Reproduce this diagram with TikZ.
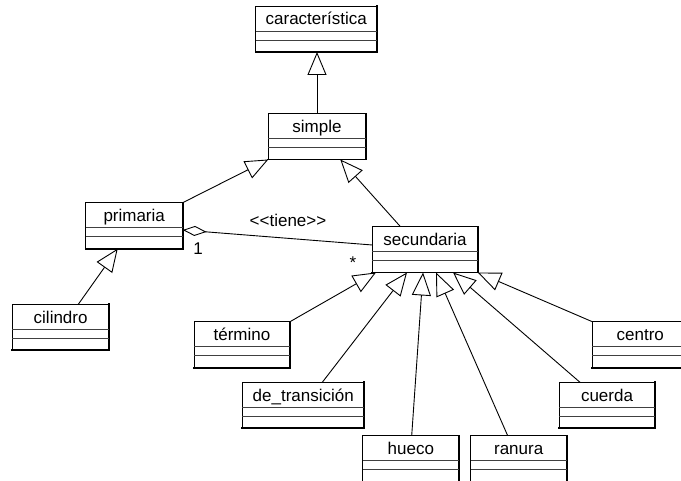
\documentclass[tikz,border=0pt]{standalone}
\usepackage{fontspec}
\setmainfont{Liberation Sans}
\usetikzlibrary{arrows.meta,calc}

\tikzset{
  clsbox/.style={draw=none, minimum height=46pt, inner sep=0pt, outer sep=0pt, anchor=north west},
  thinedge/.style={draw=black, line width=0.9pt, line cap=rect},
  thickedge/.style={draw=black, line width=1.8pt, line cap=rect},
  sep/.style={draw=black!75, line width=0.8pt},
  clslabel/.style={inner sep=0pt, anchor=base, font=\fontsize{17}{20}\selectfont},
  lbl/.style={inner sep=0pt, anchor=base, font=\fontsize{17}{20}\selectfont},
  gen/.style={line width=0.9pt, -{Triangle[open, length=23pt, width=19pt, line width=0.9pt]}},
  agg/.style={line width=0.9pt, {Diamond[open, length=24pt, width=10pt, line width=0.9pt]}-},
}

% class box: name, x, y (top-left), width, title
\newcommand\umlclass[5]{%
  \node[clsbox, minimum width=#4] (#1) at (#2,#3) {};
  \draw[thinedge] (#1.south west) -- (#1.north west) -- (#1.north east);
  \draw[thickedge] (#1.north east) -- (#1.south east) -- (#1.south west);
  \draw[sep] ($(#1.north west)+(0,25)$) -- ($(#1.north east)+(0,25)$);
  \draw[sep] ($(#1.north west)+(0,34)$) -- ($(#1.north east)+(0,34)$);
  \node[clslabel] (#1-name) at ($(#1.north)+(0,19)$) {#5};
}

\begin{document}
\begin{tikzpicture}[x=1pt, y=-1pt]
\useasboundingbox (0,0) rectangle (681,481);
\fill[white] (0,0) rectangle (681,481);
\clip (0,0) rectangle (681,481);

\umlclass{car}{255.7}{6}{121}{característica}
\umlclass{simple}{268.3}{113.5}{97.4}{simple}
\umlclass{prim}{85.7}{202.7}{97}{primaria}
\umlclass{sec}{372.3}{226.5}{105.4}{secundaria}
\umlclass{cil}{12.3}{304.3}{96.7}{cilindro}
\umlclass{term}{194}{321.7}{96}{término}
\umlclass{centro}{592.3}{321.7}{96}{centro}
\umlclass{trans}{242.3}{382.3}{122}{de\_transición}
\umlclass{cuerda}{559}{382.3}{96}{cuerda}
\umlclass{hueco}{362.7}{435.7}{96.3}{hueco}
\umlclass{ranura}{470.7}{435.7}{96}{ranura}

% generalisations
\draw[gen] (simple.north) -- (simple.north |- car.south);
\draw[gen] (prim.north east) -- (simple.south west);
\draw[gen] ($(sec.north west)+(28,0)$) -- ($(simple.south west)+(72,0)$);
\draw[gen] ($(cil.north west)+(66,0)$) -- ($(prim.south west)+(32,0)$);
\draw[gen] (term.north east) -- ($(sec.south west)+(3.7,0)$);
\draw[gen] ($(trans.north west)+(80,0)$) -- ($(sec.south west)+(34.7,0)$);
\draw[gen] ($(hueco.north west)+(49,0)$) -- ($(sec.south west)+(50.7,0)$);
\draw[gen] ($(ranura.north west)+(37,0)$) -- ($(sec.south west)+(63.7,0)$);
\draw[gen] ($(cuerda.north west)+(21,0)$) -- ($(sec.south west)+(80.7,0)$);
\draw[gen] (centro.north west) -- (sec.south east);

% aggregation
\draw[agg] ($(prim.north east)+(0,27.3)$) -- ($(sec.north west)+(0,18.5)$);
\node[lbl] (tiene) at (288,226.7) {<\kern0pt<tiene>\kern0pt>};
\node[lbl] (m1) at (198,254.5) {1};
\node[lbl] (mstar) at (353,269) {*};
\end{tikzpicture}
\end{document}
